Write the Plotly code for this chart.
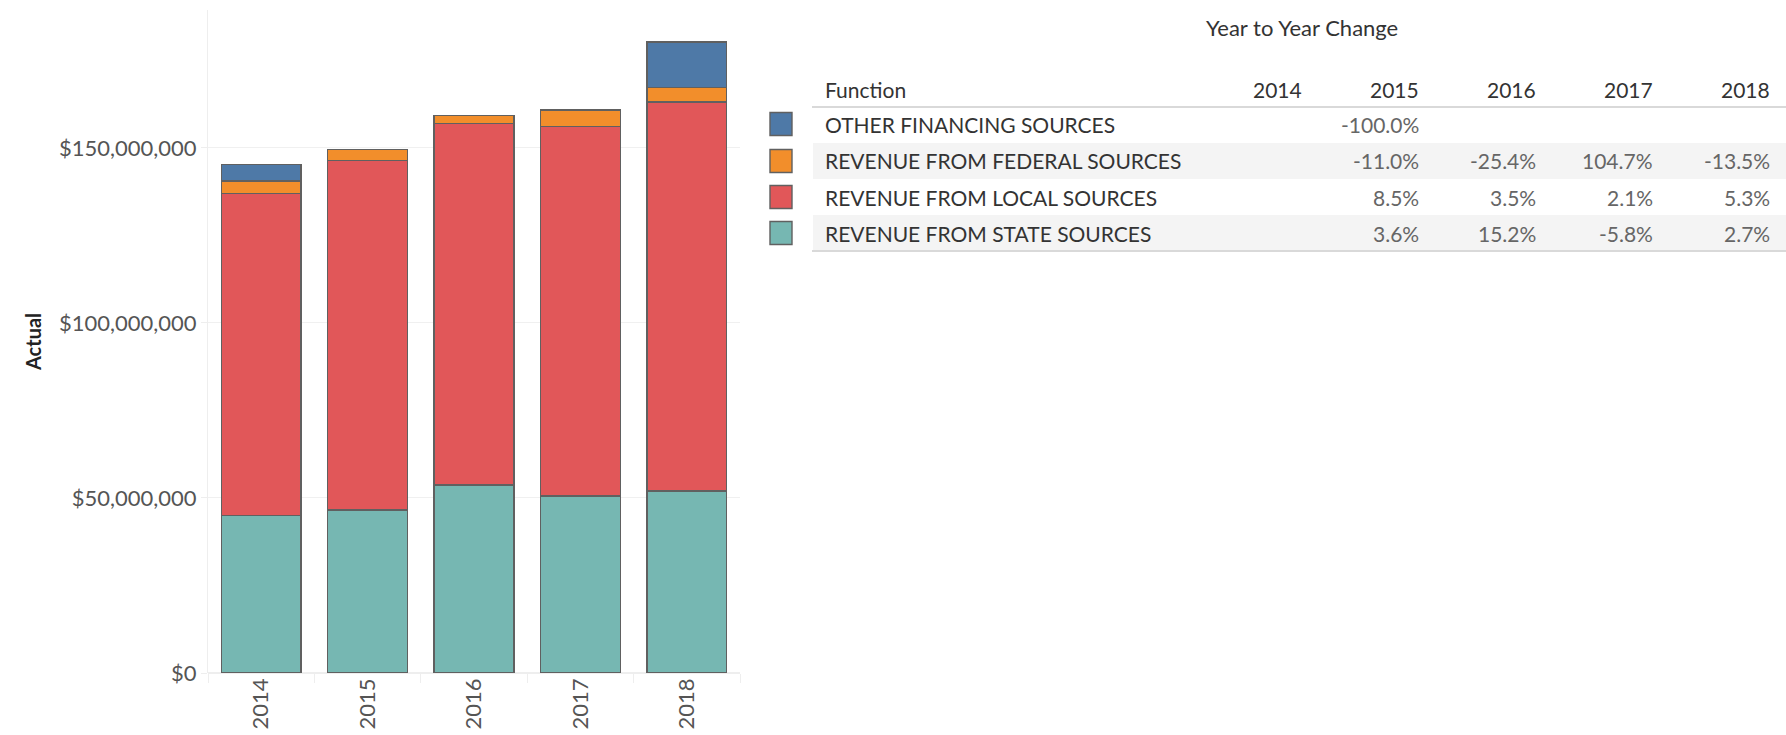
import plotly.graph_objects as go

# Dados
anos = ["2014", "2015", "2016", "2017", "2018"]
estadual = [45.0e6, 46.6e6, 53.7e6, 50.6e6, 52.0e6]
local = [92.0e6, 99.8e6, 103.3e6, 105.5e6, 111.1e6]
federal = [3.5e6, 3.1e6, 2.3e6, 4.75e6, 4.1e6]
outros = [4.7e6, None, None, None, 13.1e6]

# Tabela de variação ano a ano
funcoes = [
    "OTHER FINANCING SOURCES",
    "REVENUE FROM FEDERAL SOURCES",
    "REVENUE FROM LOCAL SOURCES",
    "REVENUE FROM STATE SOURCES",
]
var_outros = ["", "-100.0%", "", "", ""]
var_federal = ["", "-11.0%", "-25.4%", "104.7%", "-13.5%"]
var_local = ["", "8.5%", "3.5%", "2.1%", "5.3%"]
var_estadual = ["", "3.6%", "15.2%", "-5.8%", "2.7%"]

cores = ["#4e79a7", "#f28e2b", "#e15759", "#76b7b2"]

W, H = 1786, 735
ML, MR, MT, MB = 208, W - 740, 10, H - 673
PW, PH = W - ML - MR, H - MT - MB
FONTE = "Lato"


def px(x):
    return (x - ML) / PW


def py(y):
    return 1 - (y - MT) / PH


fig = go.Figure()

series = [
    ("REVENUE FROM STATE SOURCES", estadual, cores[3]),
    ("REVENUE FROM LOCAL SOURCES", local, cores[2]),
    ("REVENUE FROM FEDERAL SOURCES", federal, cores[1]),
    ("OTHER FINANCING SOURCES", outros, cores[0]),
]
for nome, valores, cor in series:
    fig.add_trace(go.Bar(
        x=anos,
        y=valores,
        name=nome,
        marker=dict(color=cor, line=dict(color="#606060", width=1.4)),
    ))

# Tabela (cabeçalho, linhas, legenda)
x_func = 823
x_cols = [1304, 1421, 1538, 1655, 1772]
y_head = 89
y_rows = [124, 161, 197, 233]
cor_txt = "#333333"
cor_val = "#666666"

anns = []
anns.append(dict(x=px(1302), y=py(27), text="Year to Year Change", showarrow=False,
                 xref="paper", yref="paper", xanchor="center", yanchor="middle",
                 font=dict(family=FONTE, size=22, color=cor_txt)))
anns.append(dict(x=px(x_func), y=py(y_head), text="Function", showarrow=False,
                 xref="paper", yref="paper", xanchor="left", yanchor="middle",
                 font=dict(family=FONTE, size=21, color=cor_txt)))
for xc, ano in zip(x_cols, anos):
    anns.append(dict(x=px(xc), y=py(y_head), text=ano, showarrow=False,
                     xref="paper", yref="paper", xanchor="right", yanchor="middle",
                     font=dict(family=FONTE, size=21, color=cor_txt)))

linhas = [var_outros, var_federal, var_local, var_estadual]
shapes = []
for i, (func, vals) in enumerate(zip(funcoes, linhas)):
    yc = y_rows[i]
    if i % 2 == 1:
        shapes.append(dict(type="rect", xref="paper", yref="paper",
                           x0=px(813), x1=px(1786), y0=py(yc - 18), y1=py(yc + 18),
                           fillcolor="#f4f4f4", line=dict(width=0), layer="below"))
    shapes.append(dict(type="rect", xref="paper", yref="paper",
                       x0=px(770), x1=px(792), y0=py(yc - 11.5), y1=py(yc + 11.5),
                       fillcolor=cores[i], line=dict(color="#606060", width=1.4)))
    anns.append(dict(x=px(x_func), y=py(yc), text=func, showarrow=False,
                     xref="paper", yref="paper", xanchor="left", yanchor="middle",
                     font=dict(family=FONTE, size=21, color=cor_txt)))
    for xc, v in zip(x_cols, vals):
        if v:
            anns.append(dict(x=px(xc), y=py(yc), text=v, showarrow=False,
                             xref="paper", yref="paper", xanchor="right", yanchor="middle",
                             font=dict(family=FONTE, size=21, color=cor_val)))

# Linhas da tabela
for yl in (107, 251):
    shapes.append(dict(type="line", xref="paper", yref="paper",
                       x0=px(812), x1=px(1786), y0=py(yl), y1=py(yl),
                       line=dict(color="#d9d9d9", width=2)))

fig.update_layout(
    width=W, height=H,
    margin=dict(l=ML, r=MR, t=MT, b=MB, pad=0),
    barmode="stack",
    bargap=0.25,
    showlegend=False,
    plot_bgcolor="white",
    paper_bgcolor="white",
    font=dict(family=FONTE, color="#555555"),
    annotations=anns,
    shapes=shapes,
    xaxis=dict(
        automargin=False,
        tickangle=-90,
        tickfont=dict(family=FONTE, size=22, color="#555555"),
        ticks="outside", tickson="boundaries", ticklen=9, tickcolor="#eeeeee",
        showgrid=False, showline=False,
        range=[-0.5, 4.5],
    ),
    yaxis=dict(
        automargin=False,
        title=dict(text="<b>Actual</b>", font=dict(family=FONTE, size=20, color="#222222"), standoff=12),
        range=[0, 189.4e6],
        dtick=50e6,
        tickprefix="$", tickformat=",d",
        tickfont=dict(family=FONTE, size=22, color="#555555"),
        ticks="outside", ticklen=6, tickcolor="#eeeeee",
        showgrid=True, gridcolor="#f0f0f0", gridwidth=1,
        zeroline=True, zerolinecolor="#eeeeee",
        showline=True, linecolor="#eeeeee",
    ),
)

fig.write_html("out.html", config={"displayModeBar": False},
               post_script="document.body.style.margin='0';")
